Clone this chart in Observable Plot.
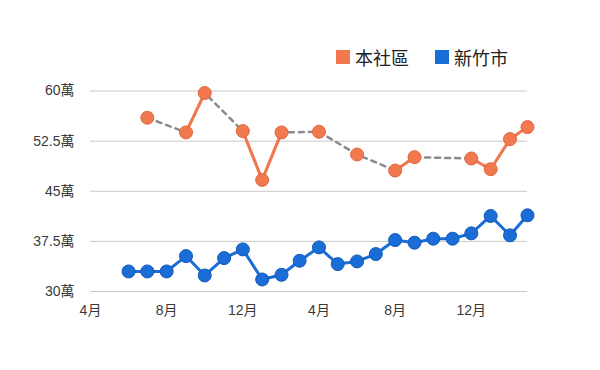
<!DOCTYPE html>
<html>
<head>
<meta charset="utf-8">
<script src="https://cdn.jsdelivr.net/npm/d3@7"></script>
<script src="https://cdn.jsdelivr.net/npm/@observablehq/plot@0.6"></script>
<style>
  body { margin: 0; background: #fff; font-family: "Liberation Sans", "Noto Sans CJK TC", sans-serif; }
  #wrap { position: relative; width: 600px; height: 370px; }
  #legend { position: absolute; top: 44px; left: 336px; display: flex; align-items: center; font-size: 18px; color: #222; font-family: "Noto Sans CJK TC", sans-serif; }
  .sw { display: inline-block; width: 14px; height: 14px; margin-right: 5px; }
  .item { display: flex; align-items: center; margin-right: 26px; }
  svg text { font-size: 14px; }
</style>
</head>
<body>
<div id="wrap">
  <div id="legend"></div>
</div>
<script>
const months = ["2019-04","2019-05","2019-06","2019-07","2019-08","2019-09","2019-10","2019-11","2019-12",
  "2020-01","2020-02","2020-03","2020-04","2020-05","2020-06","2020-07","2020-08","2020-09","2020-10","2020-11","2020-12",
  "2021-01","2021-02","2021-03"];
const community = [null,null,null,56.0,null,53.8,59.7,null,54.0,46.7,53.8,null,53.9,null,50.5,null,48.1,50.1,null,null,49.9,48.3,52.8,54.6];
const city = [null,null,33.0,33.0,33.0,35.3,32.4,35.0,36.3,31.8,32.5,34.6,36.6,34.1,34.5,35.6,37.7,37.3,37.9,37.9,38.7,41.3,38.4,41.4];
const seriesNames = ["本社區","新竹市"];
const colors = ["#f2784f","#1a6dd6"];
const strokes = ["#e0663d","#1259b8"];
const yTicks = [30, 37.5, 45, 52.5, 60];
const xTicks = ["2019-04","2019-08","2019-12","2020-04","2020-08","2020-12"];

const parse = d3.utcParse("%Y-%m");
const comm = months.map((m, i) => ({date: parse(m), v: community[i]}));
const cty = months.map((m, i) => ({date: parse(m), v: city[i]}));
const commDef = comm.filter(d => d.v != null);
const ctyDef = cty.filter(d => d.v != null);

const chart = Plot.plot({
  width: 600,
  height: 370,
  marginLeft: 90,
  marginRight: 73,
  marginTop: 90.5,
  marginBottom: 79,
  style: {fontFamily: '"Liberation Sans", "Noto Sans CJK TC", sans-serif', fontSize: "14px", color: "#3a3a3a", background: "transparent"},
  x: {type: "utc", domain: [parse(months[0]), parse(months[months.length-1])], ticks: xTicks.map(parse), tickFormat: d => (d.getUTCMonth()+1) + "月", tickSize: 0, tickPadding: 14, label: null},
  y: {domain: [30, 60], ticks: yTicks, tickFormat: d => d + "萬", tickSize: 0, tickPadding: 16, label: null},
  marks: [
    Plot.ruleY(yTicks, {stroke: "#c8c8c8", strokeWidth: 1}),
    Plot.line(cty, {x: "date", y: "v", stroke: colors[1], strokeWidth: 3}),
    Plot.line(commDef, {x: "date", y: "v", stroke: "#8a8a8a", strokeWidth: 2.5, strokeDasharray: "5,5"}),
    Plot.line(comm, {x: "date", y: "v", stroke: colors[0], strokeWidth: 3}),
    Plot.dot(ctyDef, {x: "date", y: "v", r: 6.5, fill: colors[1], stroke: strokes[1], strokeWidth: 1}),
    Plot.dot(commDef, {x: "date", y: "v", r: 6.5, fill: colors[0], stroke: strokes[0], strokeWidth: 1})
  ]
});
document.getElementById("wrap").appendChild(chart);

const legend = document.getElementById("legend");
seriesNames.forEach((n, i) => {
  const it = document.createElement("span");
  it.className = "item";
  it.innerHTML = `<span class="sw" style="background:${colors[i]}"></span>${n}`;
  legend.appendChild(it);
});
</script>
</body>
</html>
